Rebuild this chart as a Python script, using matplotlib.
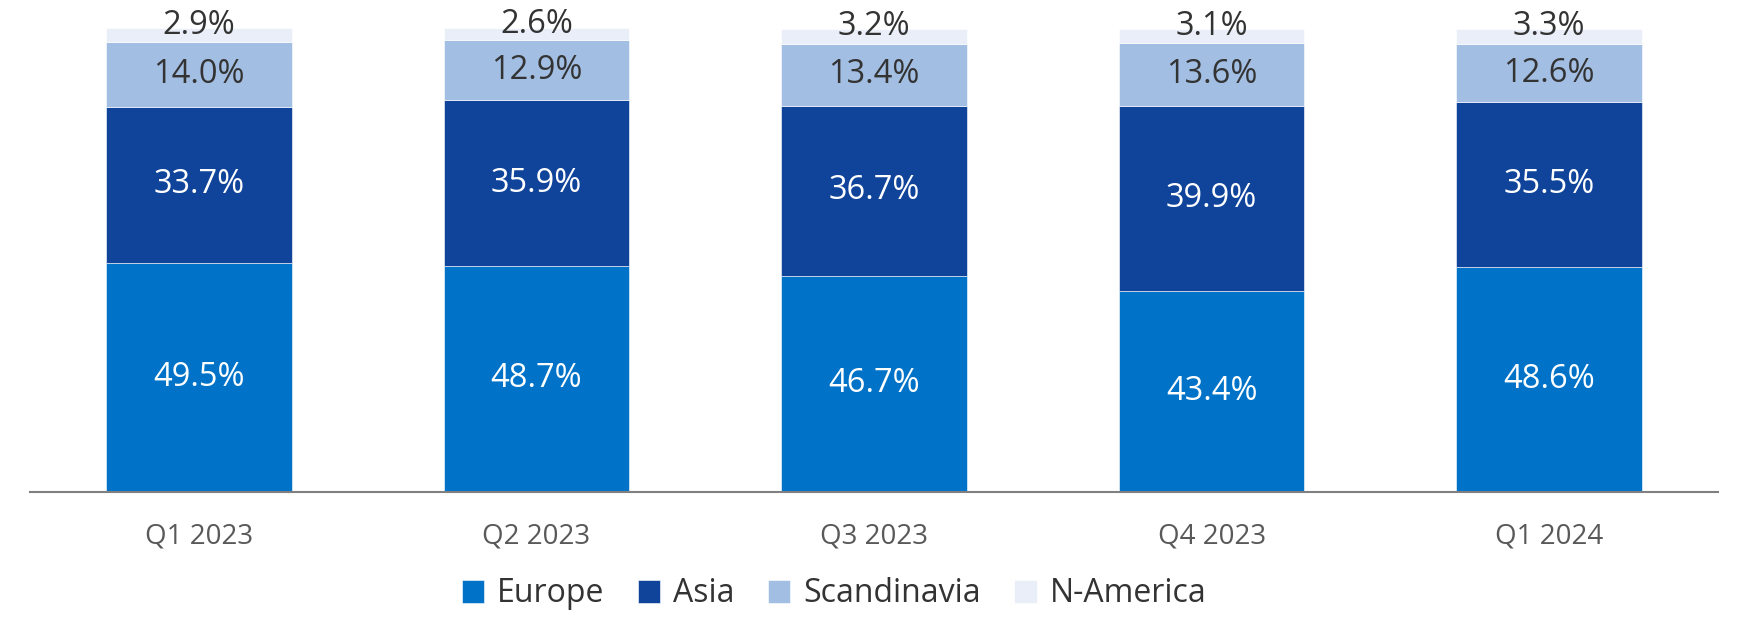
import matplotlib
matplotlib.use("Agg")
import matplotlib.pyplot as plt
import numpy as np

categories = ["Q1 2023", "Q2 2023", "Q3 2023", "Q4 2023", "Q1 2024"]
series_names = ["Europe", "Asia", "Scandinavia", "N-America"]
europe = [49.5, 48.7, 46.7, 43.4, 48.6]
asia = [33.7, 35.9, 36.7, 39.9, 35.5]
scandinavia = [14.0, 12.9, 13.4, 13.6, 12.6]
n_america = [2.9, 2.6, 3.2, 3.1, 3.3]

colors = ["#0073C9", "#10449A", "#A2BEE2", "#E9EEF8"]
label_colors = ["white", "white", "#333333", "#333333"]

plt.rcParams['font.family'] = ['Open Sans', 'DejaVu Sans']

W, H = 1738, 617
fig = plt.figure(figsize=(W / 100, H / 100), dpi=100)
ax_left, ax_right = 30 / W, 1718 / W
ax_bottom = (H - 491.7) / H
ymax = 105
px_per_unit = (491.7 - 28.3) / 100.1
ax_height = ymax * px_per_unit / H
ax = fig.add_axes([ax_left, ax_bottom, ax_right - ax_left, ax_height])

x = np.arange(len(categories))
data = [europe, asia, scandinavia, n_america]
bottom = np.zeros(len(categories))
handles = []
for i, (name, vals) in enumerate(zip(series_names, data)):
    vals = np.array(vals)
    bars = ax.bar(x, vals, width=0.55, bottom=bottom, color=colors[i],
                  edgecolor="white", linewidth=0.4, label=name)
    handles.append(bars)
    for xi, b, v in zip(x, bottom, vals):
        if i == 3:
            ax.annotate(f"{v:.1f}%", xy=(xi, b + v / 2), xytext=(0, 7),
                        textcoords="offset points", ha="center", va="center",
                        fontsize=23.5, color=label_colors[i])
        else:
            ax.text(xi, b + v / 2, f"{v:.1f}%", ha="center", va="center",
                    fontsize=23.5, color=label_colors[i])
    bottom = bottom + vals

ax.set_xlim(-0.5, len(categories) - 0.5)
ax.set_ylim(0, ymax)
ax.set_xticks(x)
ax.set_xticklabels(categories, fontsize=20, color="#595959")
ax.tick_params(axis="x", length=0, pad=22)
ax.set_yticks([])
for s in ["top", "right", "left"]:
    ax.spines[s].set_visible(False)
ax.spines["bottom"].set_color("#808080")
ax.spines["bottom"].set_linewidth(1.5)

fig.legend(handles=handles, labels=series_names, loc="center",
           bbox_to_anchor=(834 / W, 1 - 594 / H), ncol=4, frameon=False,
           fontsize=23, handlelength=0.7, handleheight=0.7,
           handletextpad=0.4, columnspacing=1.05, labelcolor="#333333")

fig.savefig("out.png", dpi=100)
